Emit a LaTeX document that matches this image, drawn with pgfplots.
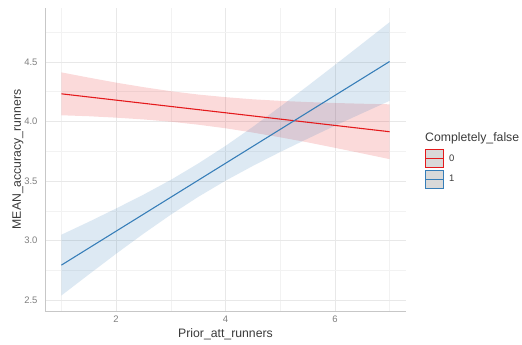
\documentclass[border=0pt]{standalone}
\usepackage{pgfplots}
\pgfplotsset{compat=1.18}
\usepackage{fontspec}
\setmainfont{Liberation Sans}
\definecolor{rred}{HTML}{E41A1C}
\definecolor{rblue}{HTML}{377EB8}
\definecolor{tickgray}{HTML}{7F7F7F}
\definecolor{titlegray}{HTML}{3A3A3A}
\begin{document}
\begin{tikzpicture}
\path[use as bounding box] (0,0) rectangle (522bp,345bp);
\begin{axis}[
  at={(45bp,34bp)}, anchor=south west,
  scale only axis, width=361bp, height=303bp,
  xmin=0.7, xmax=7.3, ymin=2.41, ymax=4.952,
  xtick={2,4,6}, ytick={2.5,3.0,3.5,4.0,4.5},
  minor xtick={1,3,5,7}, minor ytick={2.75,3.25,3.75,4.25,4.75},
  grid=both,
  major grid style={draw=black!9, line width=0.6pt},
  minor grid style={draw=black!5, line width=0.45pt},
  axis x line*=bottom, axis y line*=left,
  axis line style={draw=black!22, line width=0.7pt, -},
  major tick length=0pt, minor tick length=0pt,
  /pgf/number format/assume math mode=true,
  yticklabel style={/pgf/number format/fixed, /pgf/number format/fixed zerofill, /pgf/number format/precision=1, font=\fontsize{9.5}{11}\selectfont, text=tickgray, xshift=-4bp},
  xticklabel style={font=\fontsize{9.5}{11}\selectfont, text=tickgray, yshift=-1bp},
  xlabel={Prior\_att\_runners}, ylabel={MEAN\_accuracy\_runners},
  xlabel style={font=\fontsize{12.3}{14}\selectfont, text=titlegray, at={(axis description cs:0.5,-0.077)}, anchor=center},
  ylabel style={font=\fontsize{12.3}{14}\selectfont, text=titlegray, at={(axis description cs:-0.075,0.5)}, anchor=center, rotate=0},
  legend style={at={(axis description cs:1.0526,0.5347)}, anchor=north west, draw=none, fill=none, inner sep=0pt, font=\fontsize{9.5}{11}\selectfont, text=titlegray, row sep=1.5bp, /tikz/every odd column/.append style={column sep=3bp}},
  legend cell align=left,
  legend image code/.code={\draw[#1, fill=black!15, line width=1pt] (0bp,-9bp) rectangle (18bp,9bp); \draw[#1, line width=1pt] (0bp,0bp) -- (18bp,0bp);},
]
% red band
\addplot[draw=none, fill=rred, fill opacity=0.16, forget plot] coordinates {
 (1,4.412) (1.5,4.368) (2,4.326) (2.5,4.288) (3,4.254) (3.5,4.226) (4,4.204) (4.5,4.186) (5,4.173) (5.5,4.163) (6,4.155) (6.5,4.149) (7,4.144)
 (7,3.684) (6.5,3.732) (6,3.779) (5.5,3.825) (5,3.867) (4.5,3.907) (4,3.943) (3.5,3.973) (3,3.998) (2.5,4.017) (2,4.032) (1.5,4.044) (1,4.052)
} -- cycle;
% blue band
\addplot[draw=none, fill=rblue, fill opacity=0.17, forget plot] coordinates {
 (1,3.050) (1.5,3.158) (2,3.270) (2.5,3.386) (3,3.510) (3.5,3.647) (4,3.795) (4.5,3.955) (5,4.124) (5.5,4.297) (6,4.474) (6.5,4.653) (7,4.833)
 (7,4.173) (6.5,4.069) (6,3.964) (5.5,3.855) (5,3.744) (4.5,3.627) (4,3.503) (3.5,3.367) (3,3.218) (2.5,3.058) (2,2.890) (1.5,2.716) (1,2.540)
} -- cycle;
\addplot[draw=rred, line width=1.1pt, no marks] coordinates {(1,4.232) (7,3.914)};
\addlegendentry{0}
\addplot[draw=rblue, line width=1.1pt, no marks] coordinates {(1,2.795) (7,4.503)};
\addlegendentry{1}
\end{axis}
\node[anchor=west, inner sep=0pt, font=\fontsize{12.3}{14}\selectfont, text=titlegray] at (425bp,207bp) {Completely\_false};
\end{tikzpicture}
\end{document}
